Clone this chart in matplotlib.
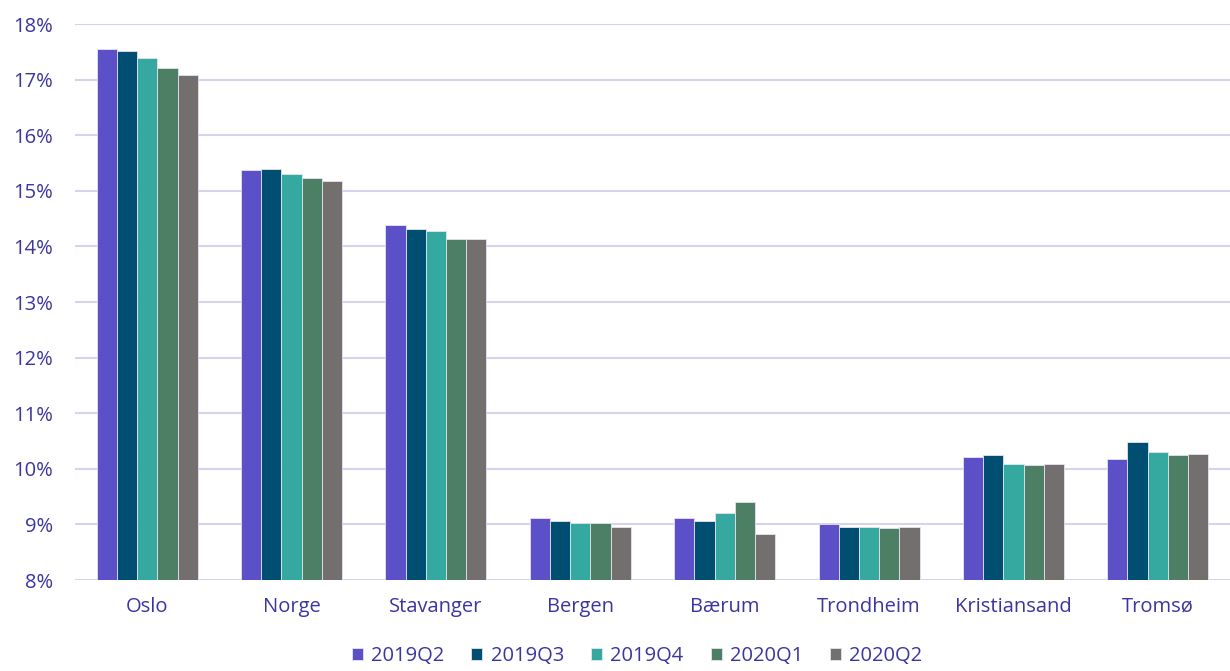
import matplotlib
matplotlib.use("Agg")
import matplotlib.pyplot as plt
import numpy as np
from matplotlib.ticker import FuncFormatter

categories = ["Oslo", "Norge", "Stavanger", "Bergen", "Bærum", "Trondheim", "Kristiansand", "Tromsø"]
series_names = ["2019Q2", "2019Q3", "2019Q4", "2020Q1", "2020Q2"]
s2019q2 = [17.55, 15.38, 14.39, 9.11, 9.11, 9.00, 10.21, 10.17]
s2019q3 = [17.51, 15.39, 14.32, 9.07, 9.07, 8.96, 10.24, 10.49]
s2019q4 = [17.38, 15.30, 14.28, 9.03, 9.21, 8.95, 10.09, 10.31]
s2020q1 = [17.20, 15.23, 14.14, 9.02, 9.41, 8.94, 10.06, 10.25]
s2020q2 = [17.08, 15.17, 14.13, 8.96, 8.83, 8.96, 10.08, 10.26]
colors = ["#5B50C8", "#004E72", "#35A9A0", "#4C7F63", "#736F6E"]
yticks = list(range(8, 19))

series = [s2019q2, s2019q3, s2019q4, s2020q1, s2020q2]
text_color = "#3B35A0"
grid_color = "#D6D2F0"
fs = 14.5

plt.rcParams['font.family'] = ['Open Sans', 'DejaVu Sans']
fig = plt.figure(figsize=(12.3, 6.71), dpi=100)
ax = fig.add_axes([75/1230, 1-580/671, 1-75/1230, (580-24)/671])

x = np.arange(len(categories))
bw = 0.14
for i, (vals, name, c) in enumerate(zip(series, series_names, colors)):
    ax.bar(x + (i - 2) * bw, np.array(vals) - 8, bw, bottom=8, color=c, label=name,
           edgecolor="#E4E4EE", linewidth=0.6, zorder=3)

ax.set_xlim(-0.5, len(categories) - 0.5)
ax.set_ylim(8, 18)
ax.set_yticks(yticks)
ax.yaxis.set_major_formatter(FuncFormatter(lambda v, p: f"{int(v)}%"))
ax.set_xticks(x)
ax.set_xticklabels(categories)
ax.grid(axis='y', color=grid_color, linewidth=1.5, zorder=0)
ax.set_axisbelow(True)
for s in ax.spines.values():
    s.set_visible(False)
ax.tick_params(axis='both', length=0, labelsize=fs, colors=text_color)
ax.tick_params(axis='y', pad=16)
ax.tick_params(axis='x', pad=12)

leg = fig.legend(loc='center', bbox_to_anchor=(0.518, 1-656/671), ncol=5, frameon=False,
                 fontsize=fs, handlelength=0.55, handleheight=0.55, handletextpad=0.4,
                 columnspacing=1.35, labelcolor=text_color, borderpad=0.1)

fig.savefig("out.png", dpi=100, facecolor="white")
